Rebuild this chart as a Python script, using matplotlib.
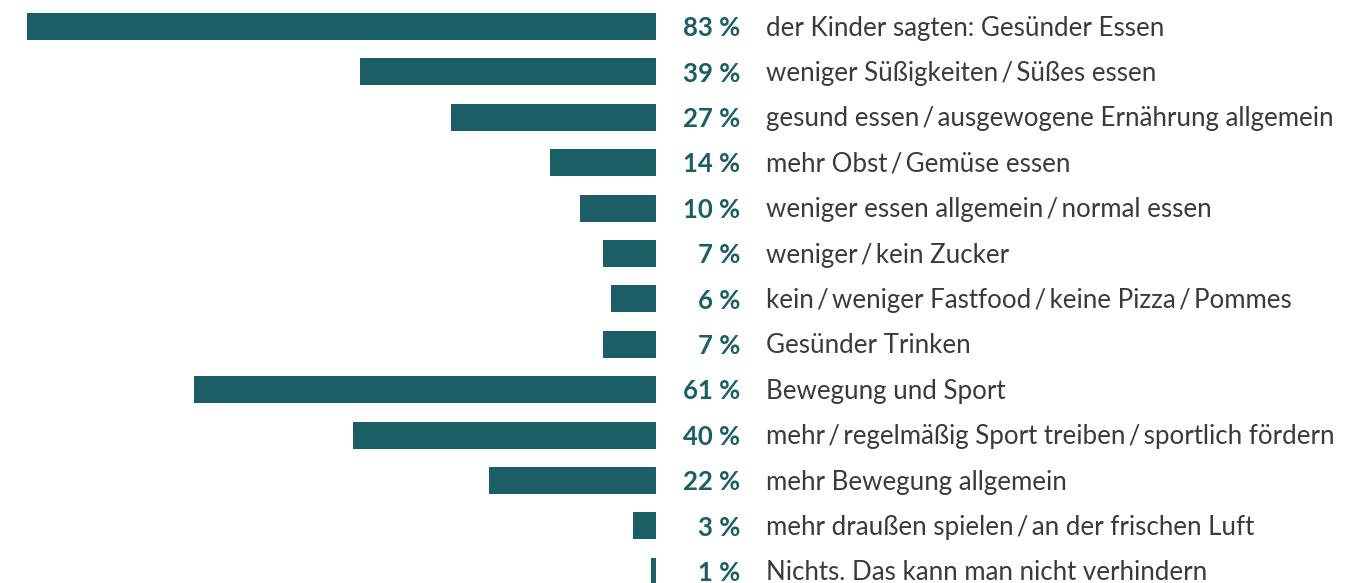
import matplotlib
matplotlib.use("Agg")
import matplotlib.pyplot as plt

S = "\u2009/\u2009"
categories = [
    "der Kinder sagten: Gesünder Essen",
    f"weniger Süßigkeiten{S}Süßes essen",
    f"gesund essen{S}ausgewogene Ernährung allgemein",
    f"mehr Obst{S}Gemüse essen",
    f"weniger essen allgemein{S}normal essen",
    f"weniger{S}kein Zucker",
    f"kein{S}weniger Fastfood{S}keine Pizza{S}Pommes",
    "Gesünder Trinken",
    "Bewegung und Sport",
    f"mehr{S}regelmäßig Sport treiben{S}sportlich fördern",
    "mehr Bewegung allgemein",
    f"mehr draußen spielen{S}an der frischen Luft",
    "Nichts. Das kann man nicht verhindern",
]
values = [83, 39, 27, 14, 10, 7, 6, 7, 61, 40, 22, 3, 0.6]
labels = ["83 %", "39 %", "27 %", "14 %", "10 %", "7 %", "6 %", "7 %",
          "61 %", "40 %", "22 %", "3 %", "1 %"]

BAR = "#1b5e66"
TXT = "#3a3a3a"
FONT = ["Lato", "DejaVu Sans"]

W, H = 1369, 583
fig = plt.figure(figsize=(W / 100, H / 100), dpi=100)
ax = fig.add_axes([0, 0, 1, 1])
ax.axis("off")

ppu = 7.578  # pixels per percent
x0 = 656
ax.set_xlim(x0 / ppu, (x0 - W) / ppu)
row = 45.4
y0 = 26.5
ax.set_ylim((H - y0) / row, -y0 / row)

ys = list(range(len(values)))
ax.barh(ys, values, height=0.595, color=BAR, left=0)

for y, lab, c in zip(ys, labels, categories):
    ax.annotate(lab, xy=(0, y), xytext=(84 * 0.72, -1.2), textcoords="offset points",
                ha="right", va="center", fontsize=18.5, fontweight="bold",
                color=BAR, family=FONT)
    ax.annotate(c, xy=(0, y), xytext=(110 * 0.72, -1.2), textcoords="offset points",
                ha="left", va="center", fontsize=18.6, color=TXT, family=FONT)

fig.savefig("out.png", dpi=100)
